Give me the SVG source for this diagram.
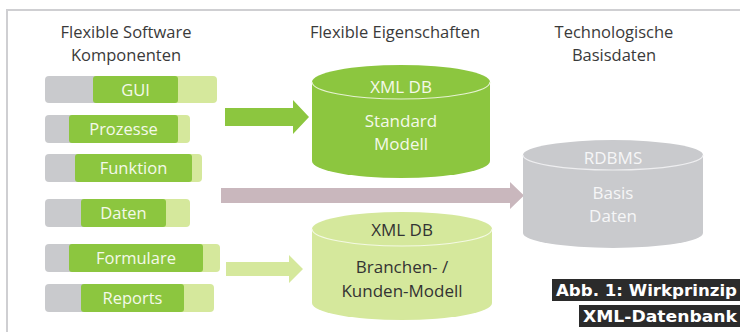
<svg xmlns="http://www.w3.org/2000/svg" width="740" height="332" viewBox="0 0 740 332">
<style>
.hdr{font-family:"Open Sans","Liberation Sans",sans-serif;font-size:16.5px;fill:#3a3a3a;text-anchor:middle}
.bt{font-family:"Open Sans","Liberation Sans",sans-serif;font-size:16.5px;fill:#f4f9ea;text-anchor:middle}
.ct{font-family:"Open Sans","Liberation Sans",sans-serif;font-size:17px;text-anchor:middle}
.gray{fill:#c9cacd}
.grn{fill:#8cc63f}
.lgr{fill:#d5e89c}
.cap{font-family:"DejaVu Sans","Liberation Sans",sans-serif;font-size:16px;font-weight:bold;fill:#ffffff}
</style>
<rect width="740" height="332" fill="#ffffff"/>
<path d="M7 332 V10 H740" fill="none" stroke="#cfcfd2" stroke-width="2"/>
<text class="hdr" x="126" y="38">Flexible Software</text>
<text class="hdr" x="126" y="61">Komponenten</text>
<text class="hdr" x="395" y="38">Flexible Eigenschaften</text>
<text class="hdr" x="614" y="38">Technologische</text>
<text class="hdr" x="614" y="61">Basisdaten</text>

<g id="bar-gui">
<rect class="lgr" x="150" y="76" width="67" height="27" rx="4"/>
<rect class="gray" x="45" y="76" width="60" height="27" rx="4"/>
<rect class="grn" x="93" y="76" width="85" height="27" rx="3"/>
<text class="bt" x="135.5" y="95.5">GUI</text>
</g>
<g id="bar-prozesse">
<rect class="lgr" x="150" y="115" width="40" height="28" rx="4"/>
<rect class="gray" x="45" y="115" width="40" height="28" rx="4"/>
<rect class="grn" x="69" y="115" width="109" height="28" rx="3"/>
<text class="bt" x="123.5" y="135">Prozesse</text>
</g>
<g id="bar-funktion">
<rect class="lgr" x="170" y="154" width="32" height="28" rx="4"/>
<rect class="gray" x="45" y="154" width="40" height="28" rx="4"/>
<rect class="grn" x="75" y="154" width="117" height="28" rx="3"/>
<text class="bt" x="133.5" y="174">Funktion</text>
</g>
<g id="bar-daten">
<rect class="lgr" x="150" y="199" width="40" height="28" rx="4"/>
<rect class="gray" x="45" y="199" width="45" height="28" rx="4"/>
<rect class="grn" x="81" y="199" width="85" height="28" rx="3"/>
<text class="bt" x="123.5" y="219">Daten</text>
</g>
<g id="bar-formulare">
<rect class="lgr" x="180" y="244" width="40" height="28" rx="4"/>
<rect class="gray" x="45" y="244" width="40" height="28" rx="4"/>
<rect class="grn" x="69" y="244" width="134" height="28" rx="3"/>
<text class="bt" x="136" y="264">Formulare</text>
</g>
<g id="bar-reports">
<rect class="lgr" x="170" y="284" width="44" height="28" rx="4"/>
<rect class="gray" x="45" y="284" width="45" height="28" rx="4"/>
<rect class="grn" x="81" y="284" width="103" height="28" rx="3"/>
<text class="bt" x="132.5" y="304">Reports</text>
</g>

<g id="connectors">
<polygon points="225,108 293,108 293,100 309,117 293,134 293,126 225,126" fill="#8cc63f"/>
<polygon points="221,188 510,188 510,182 524,195.5 510,209 510,203 221,203" fill="#c9b7bd"/>
<polygon points="226,262 289,262 289,255 303,269 289,283 289,276 226,276" fill="#d5e89c"/>
</g>

<g id="db-standard">
<path d="M312 82 V161 A89 17 0 0 0 490 161 V82 Z" fill="#8cc63f"/>
<ellipse cx="401" cy="82" rx="89" ry="17" fill="#8cc63f"/>
<path d="M312 82 A89 17 0 0 0 490 82" fill="none" stroke="#e6f2d2" stroke-width="1.2"/>
<text class="ct" x="401" y="93" fill="#f4f9ea">XML DB</text>
<text class="ct" x="401" y="127" fill="#f4f9ea">Standard</text>
<text class="ct" x="401" y="150" fill="#f4f9ea">Modell</text>
</g>
<g id="db-branchen">
<path d="M312 229 V303 A90 17 0 0 0 492 303 V229 Z" fill="#d5e89c"/>
<ellipse cx="402" cy="229" rx="90" ry="17" fill="#d5e89c"/>
<path d="M312 229 A90 17 0 0 0 492 229" fill="none" stroke="#f4f9e4" stroke-width="1.2"/>
<text class="ct" x="402" y="236" fill="#333333">XML DB</text>
<text class="ct" x="402" y="273" fill="#333333">Branchen- /</text>
<text class="ct" x="402" y="297" fill="#333333">Kunden-Modell</text>
</g>
<g id="db-rdbms">
<path d="M523 155 V233 A90 15 0 0 0 703 233 V155 Z" fill="#c9cacd"/>
<ellipse cx="613" cy="155" rx="90" ry="15" fill="#c9cacd"/>
<path d="M523 155 A90 15 0 0 0 703 155" fill="none" stroke="#eeeef0" stroke-width="1.2"/>
<text class="ct" x="613" y="164" fill="#f6f6f7">RDBMS</text>
<text class="ct" x="613" y="199" fill="#f6f6f7">Basis</text>
<text class="ct" x="613" y="222" fill="#f6f6f7">Daten</text>
</g>

<g id="caption">
<rect x="552" y="279" width="188" height="22" fill="#2b2b2b"/>
<rect x="579" y="305" width="161" height="22" fill="#2b2b2b"/>
<text class="cap" x="556" y="296" textLength="181" lengthAdjust="spacingAndGlyphs">Abb. 1: Wirkprinzip</text>
<text class="cap" x="583" y="322" textLength="154" lengthAdjust="spacingAndGlyphs">XML-Datenbank</text>
</g>
</svg>
